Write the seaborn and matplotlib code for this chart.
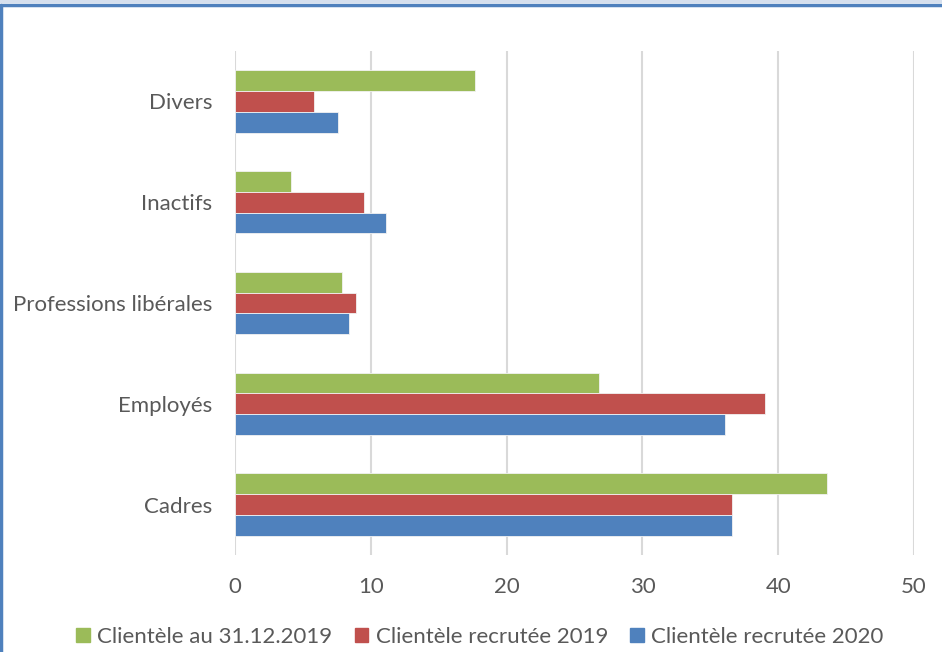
import pandas as pd
import seaborn as sns
from matplotlib import pyplot as plt
from matplotlib.lines import Line2D
from matplotlib.patches import Rectangle

# === Data ===
categories = ["Divers", "Inactifs", "Professions libérales", "Employés", "Cadres"]
series_names = ["Clientèle au 31.12.2019", "Clientèle recrutée 2019", "Clientèle recrutée 2020"]
stock_2019 = [17.7, 4.1, 7.9, 26.8, 43.6]
recrues_2019 = [5.8, 9.5, 8.9, 39.0, 36.6]
recrues_2020 = [7.6, 11.1, 8.4, 36.1, 36.6]
colors = ["#9BBB59", "#C0504D", "#4F81BD"]
x_ticks = [0, 10, 20, 30, 40, 50]

df = pd.DataFrame({
    "categorie": categories * 3,
    "serie": [series_names[0]] * 5 + [series_names[1]] * 5 + [series_names[2]] * 5,
    "valeur": stock_2019 + recrues_2019 + recrues_2020,
})

sns.set_style("white")
plt.rcParams["font.family"] = ["Lato", "DejaVu Sans"]
text_color = "#595959"
fs = 16

fig = plt.figure(figsize=(9.42, 6.52), dpi=100)
ax = fig.add_axes([235 / 942, 1 - 555 / 652, (914 - 235) / 942, (555 - 51) / 652])

sns.barplot(data=df, x="valeur", y="categorie", hue="serie", order=categories,
            hue_order=series_names, palette=colors, orient="h", width=0.62,
            edgecolor="#f2f2f2", linewidth=0.6, saturation=1, ax=ax, legend=False)

ax.set_xlim(0, 50)
ax.set_ylim(4.5, -0.5)
ax.set_xticks(x_ticks)
ax.set_xlabel("")
ax.set_ylabel("")
ax.xaxis.grid(True, color="#D9D9D9", linewidth=1.5)
ax.set_axisbelow(True)
for s in ax.spines.values():
    s.set_visible(False)
ax.tick_params(axis="both", length=0, labelsize=fs, labelcolor=text_color)
ax.tick_params(axis="y", pad=16.5)
ax.tick_params(axis="x", pad=16)

handles = [Rectangle((0, 0), 1, 1, color=c) for c in colors]
fig.legend(handles, series_names, loc="center", bbox_to_anchor=(480 / 942, 1 - 637 / 652),
           ncol=3, frameon=False, handlelength=0.6, handleheight=0.6,
           handletextpad=0.35, columnspacing=1.0, fontsize=fs, labelcolor=text_color)

# frame of the original chart (left and top edges visible)
fig.add_artist(Rectangle((0, 1 - 3 / 652), 1, 3 / 652, transform=fig.transFigure,
                         color="#D6E0EE", lw=0))
fig.add_artist(Line2D([0, 1], [1 - 5 / 652, 1 - 5 / 652], transform=fig.transFigure,
                      color="#4F81BD", linewidth=2.5))
fig.add_artist(Line2D([1 / 942, 1 / 942], [0, 1 - 5 / 652], transform=fig.transFigure,
                      color="#4F81BD", linewidth=2.5))

fig.savefig("out.png", dpi=100)
